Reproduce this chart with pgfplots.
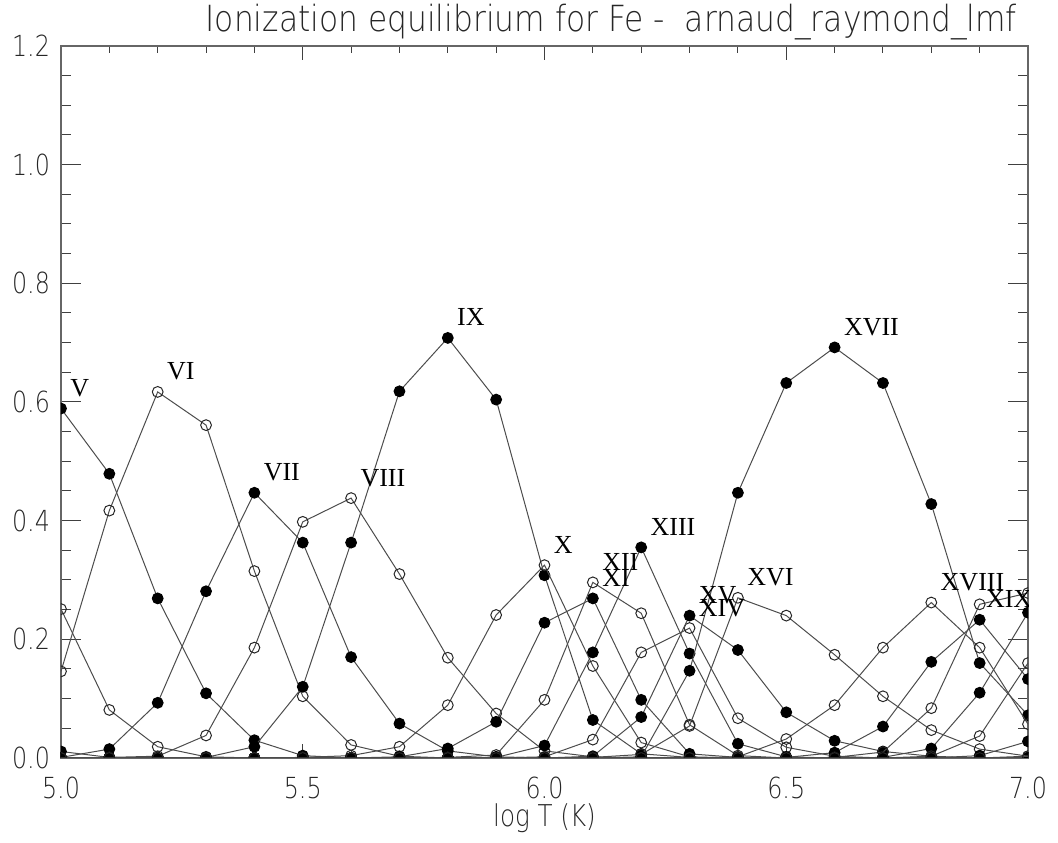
\documentclass[border=0pt]{standalone}
\usepackage{fontspec}
\usepackage{pgfplots}
\usepackage{pgfplotstable}
\pgfplotsset{compat=1.18}
\newfontfamily\thinfont[FakeStretch=0.82]{DejaVu Sans ExtraLight}
\newfontfamily\titlefont[FakeStretch=0.87]{DejaVu Sans ExtraLight}
\newfontfamily\romfont{Liberation Serif}
\tikzset{
  filled/.style={mark=*, mark size=2.7pt, mark options={draw=black, fill=black}},
  open/.style={mark=o, mark size=2.7pt, mark options={draw=black!85, fill=none}},
  lab/.style={anchor=base west, font=\romfont\fontsize{13}{13}\selectfont, xshift=4.5pt, yshift=6pt, inner sep=0pt},
}

\pgfplotstableread{
T    III  IV   V    VI   VII  VIII IX   X    XI   XII  XIII XIV  XV   XVI  XVII XVIII XIX  XX   XXI  XXII XXIII XXIV
5.0 .011 .251 .589 .146 .001 0    0    0    0    0    0    0    0    0    0    0     0    0    0    0    0     0
5.1 .001 .081 .479 .417 .015 .001 0    0    0    0    0    0    0    0    0    0     0    0    0    0    0     0
5.2 0    .019 .269 .617 .093 .003 0    0    0    0    0    0    0    0    0    0     0    0    0    0    0     0
5.3 0    .002 .109 .561 .281 .038 .001 0    0    0    0    0    0    0    0    0     0    0    0    0    0     0
5.4 0    0    .030 .315 .447 .186 .019 0    0    0    0    0    0    0    0    0     0    0    0    0    0     0
5.5 0    0    .004 .104 .363 .398 .120 .001 0    0    0    0    0    0    0    0     0    0    0    0    0     0
5.6 0    0    0    .022 .170 .438 .363 .004 0    0    0    0    0    0    0    0     0    0    0    0    0     0
5.7 0    0    0    .003 .058 .310 .618 .019 .002 0    0    0    0    0    0    0     0    0    0    0    0     0
5.8 0    0    0    0    .012 .169 .708 .089 .016 .001 0    0    0    0    0    0     0    0    0    0    0     0
5.9 0    0    0    0    .002 .075 .604 .241 .061 .005 .001 0    0    0    0    0     0    0    0    0    0     0
6.0 0    0    0    0    0    .012 .308 .325 .228 .098 .021 .002 0    0    0    0     0    0    0    0    0     0
6.1 0    0    0    0    0    .002 .064 .155 .269 .296 .178 .031 .003 .001 0    0     0    0    0    0    0     0
6.2 0    0    0    0    0    0    .007 .026 .098 .244 .355 .178 .069 .006 .002 0     0    0    0    0    0     0
6.3 0    0    0    0    0    0    .001 .002 .007 .056 .176 .219 .240 .054 .147 0     0    0    0    0    0     0
6.4 0    0    0    0    0    0    0    0    .001 .004 .024 .067 .182 .270 .447 .002  0    0    0    0    0     0
6.5 0    0    0    0    0    0    0    0    0    0    .002 .018 .077 .240 .632 .032  .001 0    0    0    0     0
6.6 0    0    0    0    0    0    0    0    0    0    0    .003 .029 .174 .692 .089  .009 .001 0    0    0     0
6.7 0    0    0    0    0    0    0    0    0    0    0    0    .011 .104 .632 .186  .053 .010 .001 0    0     0
6.8 0    0    0    0    0    0    0    0    0    0    0    0    .003 .047 .428 .262  .162 .084 .016 .003 0     0
6.9 0    0    0    0    0    0    0    0    0    0    0    0    0    .015 .160 .186  .233 .259 .110 .037 .004  0
7.0 0    0    0    0    0    0    0    0    0    0    0    0    0    .003 .072 .057  .133 .278 .245 .160 .028  .003
}\ioneq

\begin{document}
\begin{tikzpicture}
\begin{axis}[
  scale only axis, width=483.5pt, height=356pt,
  xmin=5, xmax=7, ymin=0, ymax=1.2,
  xtick={5,5.5,6,6.5,7}, xticklabels={5.0,5.5,6.0,6.5,7.0},
  ytick={0,0.2,0.4,0.6,0.8,1.0,1.2},
  yticklabels={0.0,0.2,0.4,0.6,0.8,1.0,1.2},
  minor x tick num=4, minor y tick num=3,
  tick align=inside,
  xtick style={/pgfplots/major tick length=7pt,/pgfplots/minor tick length=3.5pt,black!75,line width=0.5pt},
  ytick style={/pgfplots/major tick length=10pt,/pgfplots/minor tick length=5pt,black!75,line width=0.5pt},
  axis line style={black!60, line width=0.8pt},
  ticklabel style={font=\thinfont\fontsize{14.5}{14.5}\selectfont, text=black!85},
  xticklabel shift=6pt,
  yticklabel shift=2pt,
  xlabel={log T (K)},
  xlabel style={font=\thinfont\fontsize{15}{15}\selectfont, text=black!85,
    at={(rel axis cs:0.5,0)}, anchor=base, yshift=-34.5pt, inner sep=0pt},
  clip marker paths=true,
  every axis plot/.append style={line width=0.5pt, color=black!70},
]
\addplot[filled] table[x=T,y=III]{\ioneq};
\addplot[open] table[x=T,y=IV]{\ioneq};
\addplot[filled] table[x=T,y=V]{\ioneq};
\addplot[open] table[x=T,y=VI]{\ioneq};
\addplot[filled] table[x=T,y=VII]{\ioneq};
\addplot[open] table[x=T,y=VIII]{\ioneq};
\addplot[filled] table[x=T,y=IX]{\ioneq};
\addplot[open] table[x=T,y=X]{\ioneq};
\addplot[filled] table[x=T,y=XI]{\ioneq};
\addplot[open] table[x=T,y=XII]{\ioneq};
\addplot[filled] table[x=T,y=XIII]{\ioneq};
\addplot[open] table[x=T,y=XIV]{\ioneq};
\addplot[filled] table[x=T,y=XV]{\ioneq};
\addplot[open] table[x=T,y=XVI]{\ioneq};
\addplot[filled] table[x=T,y=XVII]{\ioneq};
\addplot[open] table[x=T,y=XVIII]{\ioneq};
\addplot[filled] table[x=T,y=XIX]{\ioneq};
\addplot[open] table[x=T,y=XX]{\ioneq};
\addplot[filled] table[x=T,y=XXI]{\ioneq};
\addplot[open] table[x=T,y=XXII]{\ioneq};
\addplot[filled] table[x=T,y=XXIII]{\ioneq};
\addplot[open] table[x=T,y=XXIV]{\ioneq};

\node[lab] at (axis cs:5.0,0.589) {V};
\node[lab] at (axis cs:5.2,0.617) {VI};
\node[lab] at (axis cs:5.4,0.447) {VII};
\node[lab] at (axis cs:5.6,0.438) {VIII};
\node[lab] at (axis cs:5.8,0.708) {IX};
\node[lab] at (axis cs:6.0,0.325) {X};
\node[lab] at (axis cs:6.1,0.269) {XI};
\node[lab] at (axis cs:6.1,0.296) {XII};
\node[lab] at (axis cs:6.2,0.355) {XIII};
\node[lab] at (axis cs:6.3,0.219) {XIV};
\node[lab] at (axis cs:6.3,0.240) {XV};
\node[lab] at (axis cs:6.4,0.270) {XVI};
\node[lab] at (axis cs:6.6,0.692) {XVII};
\node[lab] at (axis cs:6.8,0.262) {XVIII};
\node[lab, xshift=-1.5pt] at (axis cs:6.9,0.233) {XIX};

\coordinate (tt) at (rel axis cs:0.569,1);
\coordinate (ll) at (rel axis cs:0,0);
\coordinate (ur) at (rel axis cs:1,1);
\end{axis}
\node[anchor=base, inner sep=0pt, font=\titlefont\fontsize{18}{18}\selectfont, text=black!85]
  at ([yshift=7pt]tt) {Ionization equilibrium for Fe -\ \ arnaud\_raymond\_lmf};
\pgfresetboundingbox
\path ([shift={(-30.5pt,-42.5pt)}]ll) rectangle ([shift={(15pt,23pt)}]ur);
\end{tikzpicture}
\end{document}
